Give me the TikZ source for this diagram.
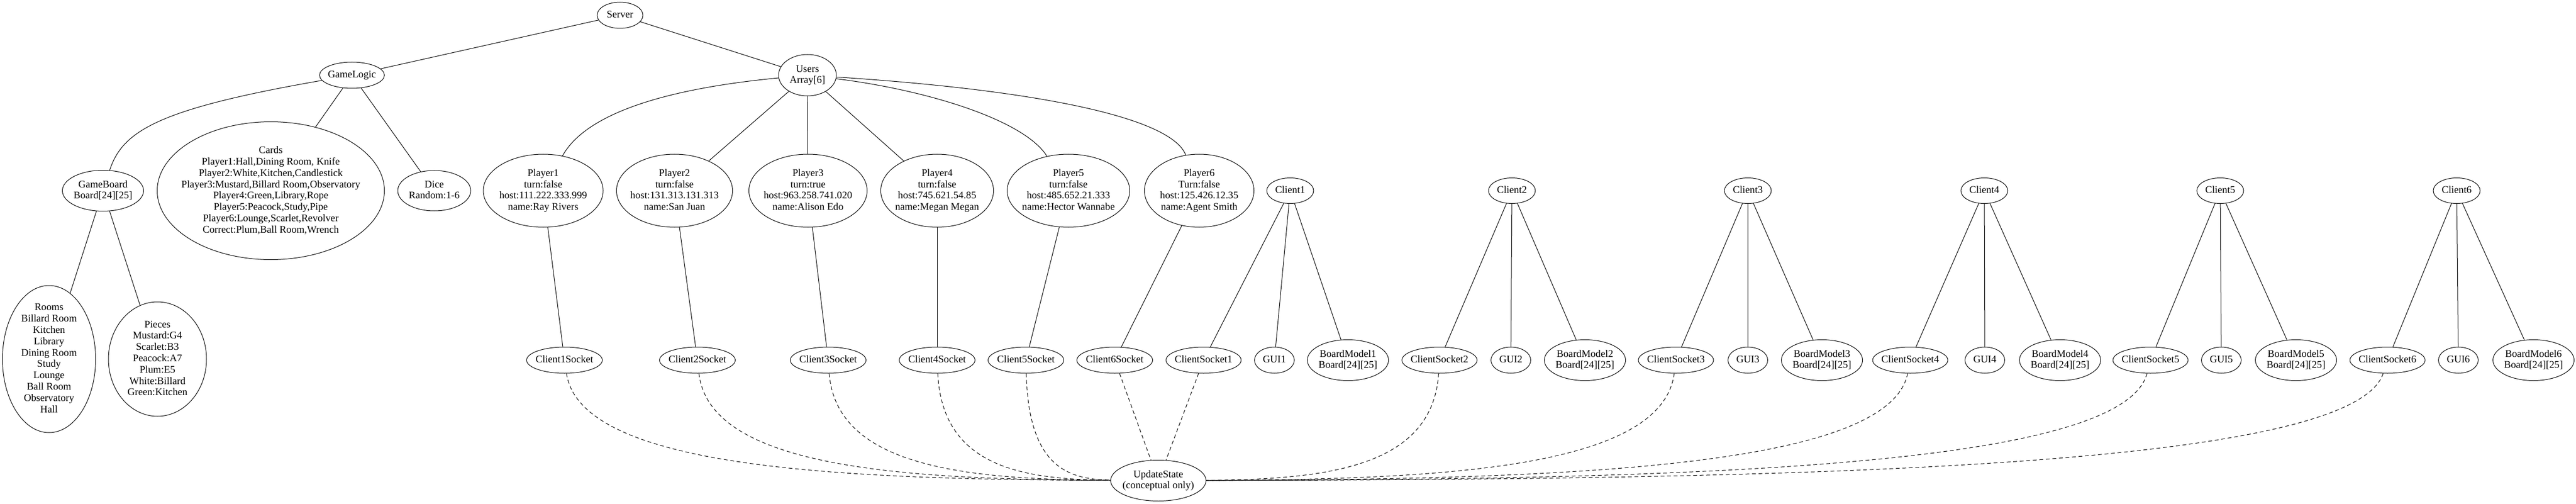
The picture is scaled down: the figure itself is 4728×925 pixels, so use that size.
\documentclass[tikz,border=0pt]{standalone}
\usepackage{fontspec}
\setmainfont{Liberation Serif}
\usetikzlibrary{shapes.geometric,calc}
\newcommand\nodetext[1]{\smash{\makebox[0pt]{\raisebox{-0.25em}{\begin{tabular}{@{}c@{}}#1\end{tabular}}}}}
\tikzset{
  base/.style={draw=black, line width=1pt, line cap=round},
  link/.style={base, line cap=butt, dash pattern=on 7pt off 5pt},
  nd/.style={ellipse, draw=black, line width=1pt, inner sep=0pt, font=\fontsize{18.67pt}{20.8pt}\selectfont},
  sz/.style 2 args={nd, minimum width=#1pt, minimum height=#2pt},
}
\begin{document}
\begin{tikzpicture}[x=1pt,y=-1pt]
  \useasboundingbox (0,0) rectangle (4728,925);
  \node[sz={84}{48}] (srv) at (1138,28) {\nodetext{Server}};
  \node[sz={119}{48}] (gl) at (646,138) {\nodetext{GameLogic}};
  \node[sz={106}{76}] (usr) at (1482,138) {\nodetext{Users\\Array[6]}};
  \node[sz={149}{75}] (gb) at (189,350) {\nodetext{GameBoard\\Board[24][25]}};
  \node[sz={417}{253}] (cards) at (497,350) {\nodetext{Cards\\Player1:Hall,Dining Room, Knife\\Player2:White,Kitchen,Candlestick\\Player3:Mustard,Billard Room,Observatory\\Player4:Green,Library,Rope\\Player5:Peacock,Study,Pipe\\Player6:Lounge,Scarlet,Revolver\\Correct:Plum,Ball Room,Wrench}};
  \node[sz={134}{74}] (dice) at (797,350) {\nodetext{Dice\\Random:1-6}};
  \node[sz={171}{270}] (rooms) at (90,659) {\nodetext{Rooms\\Billard Room\\Kitchen\\Library\\Dining Room\\Study\\Lounge\\Ball Room\\Observatory\\Hall}};
  \node[sz={180}{210}] (pieces) at (289,659) {\nodetext{Pieces\\Mustard:G4\\Scarlet:B3\\Peacock:A7\\Plum:E5\\White:Billard\\Green:Kitchen}};
  \node[sz={175}{75}] (upd) at (2126,882) {\nodetext{UpdateState\\(conceptual only)}};
  \foreach \i/\x/\w/\t in {1/997/220/{Player1\\turn:false\\host:111.222.333.999\\name:Ray Rivers},
      2/1238/213/{Player2\\turn:false\\host:131.313.131.313\\name:San Juan},
      3/1483/217/{Player3\\turn:true\\host:963.258.741.020\\name:Alison Edo},
      4/1720/207/{Player4\\turn:false\\host:745.621.54.85\\name:Megan Megan},
      5/1961/225/{Player5\\turn:false\\host:485.652.21.333\\name:Hector Wannabe},
      6/2201/201/{Player6\\Turn:false\\host:125.426.12.35\\name:Agent Smith}}
    \node[sz={\w}{134}] (p\i) at (\x,350) {\nodetext{\t}};
  \foreach \i/\x in {1/1036,2/1280,3/1520,4/1720,5/1883,6/2046}
    \node[sz={139}{48}] (s\i) at (\x,661) {\nodetext{Client\i Socket}};
  \foreach \i/\x/\cx/\gx/\bx in {1/2368/2209/2339/2474,2/2775/2642/2773/2909,3/3208/3076/3208/3344,
      4/3642/3506/3643/3781,5/4075/3947/4077/4214,6/4509/4382/4512/4650} {
    \node[sz={86}{47}] (c\i) at (\x,350) {\nodetext{Client\i}};
    \node[sz={138}{48}] (cs\i) at (\cx,661) {\nodetext{ClientSocket\i}};
    \node[sz={73}{48}] (g\i) at (\gx,661) {\nodetext{GUI\i}};
    \node[sz={149}{75}] (bm\i) at (\bx,661) {\nodetext{BoardModel\i\\Board[24][25]}};
    \draw[base] (c\i) -- (cs\i) (c\i) -- (g\i) (c\i) -- (bm\i);
  }
  \draw[base] (srv) -- (gl) (srv) -- (usr);
  \draw[base] (gl) .. controls (290,200) and (225,240) .. (gb);
  \draw[base] (gl) -- (cards) (gl) -- (dice);
  \draw[base] (gb) -- (rooms) (gb) -- (pieces);
  \draw[base] (usr) .. controls (1250,160) and (1080,200) .. (p1);
  \draw[base] (usr) -- (p2) (usr) -- (p3) (usr) -- (p4);
  \draw[base] (usr) .. controls (1700,165) and (1880,220) .. (p5);
  \draw[base] (usr) .. controls (1900,165) and (2150,215) .. (p6);
  \foreach \i in {1,...,6}
    \draw[base] (p\i) -- (s\i);
  \foreach \i/\x in {1/1036,2/1280,3/1520,4/1720,5/1883}
    \draw[link] (s\i) .. controls ({\x+0.03*(2043-\x)},860) and ({\x+0.5*(2043-\x)},880) .. (upd);
  \draw[link] (s6) -- (upd);
  \draw[link] (cs1) -- (upd);
  \foreach \i/\x in {2/2642,3/3076,4/3506,5/3947,6/4382}
    \draw[link] (cs\i) .. controls ({\x-0.03*(\x-2216)},860) and ({\x-0.5*(\x-2216)},880) .. (upd);
\end{tikzpicture}
\end{document}
